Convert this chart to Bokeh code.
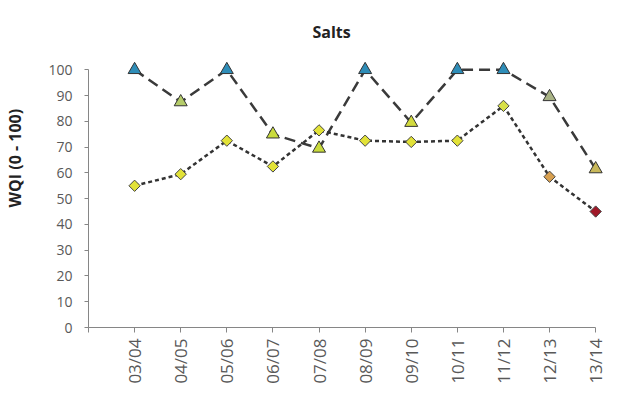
from bokeh.plotting import figure
from bokeh.models import Range1d, ColumnDataSource, FixedTicker, LinearAxis
from bokeh.embed import file_html
from bokeh.resources import INLINE
import math

# ---- data ----
seasons = ["03/04", "04/05", "05/06", "06/07", "07/08", "08/09",
           "09/10", "10/11", "11/12", "12/13", "13/14"]
wqi_triangle = [100, 87.5, 100, 75, 69.5, 100, 79.5, 100, 100, 89.5, 61.5]
wqi_diamond = [55, 59.5, 72.5, 62.5, 76.5, 72.5, 72, 72.5, 86, 58.5, 45]
y_ticks = [0, 10, 20, 30, 40, 50, 60, 70, 80, 90, 100]

# ---- per-point styles ----
tri_colors = ["#2E8DB8", "#B5CC6A", "#2E8DB8", "#C9DB3C", "#C9DB3C", "#2E8DB8",
              "#D2DA3E", "#2E8DB8", "#2E8DB8", "#A9B385", "#C8B85A"]
dia_colors = ["#E2E238", "#E2E238", "#E2E238", "#E2E238", "#E2E238", "#E2E238",
              "#E2E238", "#E2E238", "#D8E048", "#D8A050", "#A01828"]

xs = list(range(len(seasons)))
tri_src = ColumnDataSource(dict(x=xs, y=wqi_triangle, c=tri_colors))
dia_src = ColumnDataSource(dict(x=xs, y=wqi_diamond, c=dia_colors))

FONT = "Open Sans"
GREY = "#595959"

p = figure(frame_width=521, frame_height=268, output_backend="svg",
           toolbar_location=None,
           x_range=Range1d(-1, 10.3), y_range=Range1d(0, 104),
           min_border_left=88, min_border_right=20, min_border_top=59,
           min_border_bottom=60)
p.outline_line_color = None
p.xgrid.grid_line_color = None
p.ygrid.grid_line_color = None
p.background_fill_color = "white"
p.border_fill_color = "white"

# title
p.title.text = "Salts"
p.title.align = "left"
p.title.offset = 224
p.title.standoff = 34
p.title.text_font = FONT
p.title.text_font_size = "16px"
p.title.text_font_style = "bold"
p.title.text_color = "#222222"

# y axis
p.yaxis.bounds = (0, 100)
p.yaxis.ticker = FixedTicker(ticks=y_ticks)
p.yaxis.minor_tick_line_color = None
p.yaxis.major_tick_in = 0
p.yaxis.major_tick_out = 4
p.yaxis.major_label_standoff = 12
p.yaxis.axis_line_color = "#868686"
p.yaxis.major_tick_line_color = "#868686"
p.yaxis.major_label_text_font = FONT
p.yaxis.major_label_text_font_size = "14px"
p.yaxis.major_label_text_color = GREY

# y axis title carried by a bare outer axis (no line, no ticks);
# leading no-break spaces lift the visible text above the frame centre
label_axis = LinearAxis(ticker=FixedTicker(ticks=[]),
                        axis_line_color=None, major_tick_line_color=None,
                        minor_tick_line_color=None,
                        axis_label="\u00a0" * 17 + "WQI (0 - 100)",
                        axis_label_standoff=20,
                        axis_label_text_font=FONT,
                        axis_label_text_font_size="16px",
                        axis_label_text_font_style="bold",
                        axis_label_text_color="#222222")
p.add_layout(label_axis, "left")

# x axis
p.xaxis.bounds = (-1, 10)
p.xaxis.ticker = FixedTicker(ticks=[-1] + xs)
overrides = {i: s for i, s in zip(xs, seasons)}
overrides[-1] = ""
p.xaxis.major_label_overrides = overrides
p.xaxis.major_label_orientation = math.pi / 2
p.xaxis.minor_tick_line_color = None
p.xaxis.major_tick_in = 0
p.xaxis.major_tick_out = 5
p.xaxis.major_label_standoff = 6
p.xaxis.axis_line_color = "#868686"
p.xaxis.major_tick_line_color = "#868686"
p.xaxis.major_label_text_font = FONT
p.xaxis.major_label_text_font_size = "17px"
p.xaxis.major_label_text_color = GREY

# lines
p.line("x", "y", source=tri_src, line_color="#3a3a3a", line_width=2.5,
       line_dash="11 6")
p.line("x", "y", source=dia_src, line_color="#333333", line_width=2.5,
       line_dash="4 3")

# markers
p.scatter("x", "y", source=tri_src, marker="triangle", size=13,
          fill_color="c", line_color="#333333", line_width=1)
p.scatter("x", "y", source=dia_src, marker="square", size=8, angle=math.pi / 4,
          fill_color="c", line_color="#444444", line_width=1)

open("out.html", "w").write(file_html(p, INLINE))
